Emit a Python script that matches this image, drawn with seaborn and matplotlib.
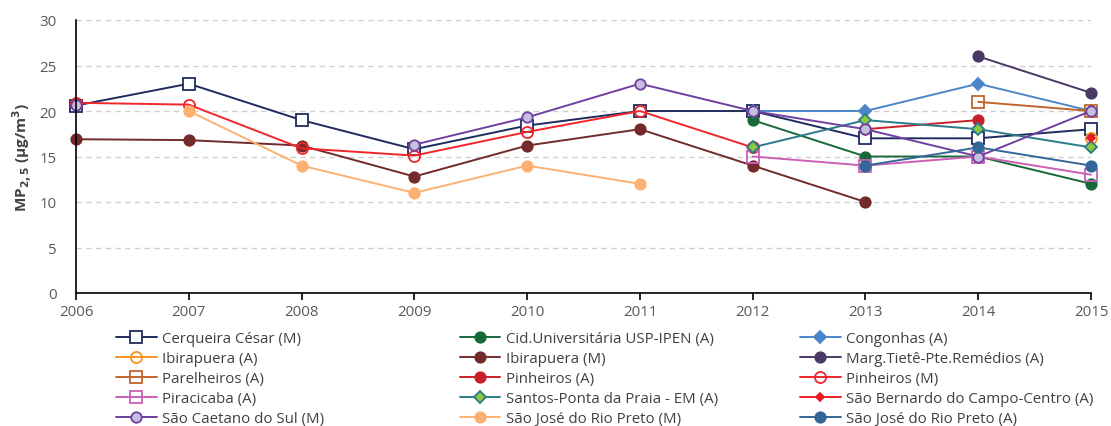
import numpy as np
import pandas as pd
import matplotlib.pyplot as plt
import seaborn as sns

nan = np.nan

# anos
years = [2006, 2007, 2008, 2009, 2010, 2011, 2012, 2013, 2014, 2015]

# MP2,5 medias anuais (ug/m3)
cerqueira_cesar_m = [20.6, 23.0, 19.0, 15.8, 18.4, 20.0, 20.0, 17.0, 17.0, 18.0]
cid_universitaria_a = [nan, nan, nan, nan, nan, nan, 19.0, 15.0, 15.0, 12.0]
congonhas_a = [nan, nan, nan, nan, nan, nan, 20.0, 20.0, 23.0, 20.0]
ibirapuera_a = [nan, nan, nan, nan, nan, nan, nan, nan, nan, 17.0]
ibirapuera_m = [16.9, 16.8, 16.2, 12.8, 16.2, 18.0, 14.0, 10.0, nan, nan]
marg_tiete_a = [nan, nan, nan, nan, nan, nan, nan, nan, 26.0, 22.0]
parelheiros_a = [nan, nan, nan, nan, nan, nan, nan, nan, 21.0, 20.0]
pinheiros_a = [nan, nan, nan, nan, nan, nan, nan, 18.0, 19.0, nan]
pinheiros_m = [20.9, 20.7, 15.9, 15.1, 17.7, 20.0, 16.0, nan, nan, nan]
piracicaba_a = [nan, nan, nan, nan, nan, nan, 15.0, 14.0, 15.0, 13.0]
santos_a = [nan, nan, nan, nan, nan, nan, 16.0, 19.0, 18.0, 16.0]
sao_bernardo_a = [nan, nan, nan, nan, nan, nan, nan, nan, nan, 17.0]
sao_caetano_m = [20.7, nan, nan, 16.3, 19.3, 23.0, 20.0, 18.0, 15.0, 20.0]
sjrp_m = [nan, 20.0, 14.0, 11.0, 14.0, 12.0, nan, nan, nan, nan]
sjrp_a = [nan, nan, nan, nan, nan, nan, nan, 14.0, 16.0, 14.0]

labels = [
    "Cerqueira César (M)", "Cid.Universitária USP-IPEN (A)", "Congonhas (A)",
    "Ibirapuera (A)", "Ibirapuera (M)", "Marg.Tietê-Pte.Remédios (A)",
    "Parelheiros (A)", "Pinheiros (A)", "Pinheiros (M)",
    "Piracicaba (A)", "Santos-Ponta da Praia - EM (A)", "São Bernardo do Campo-Centro (A)",
    "São Caetano do Sul (M)", "São José do Rio Preto (M)", "São José do Rio Preto (A)",
]
values = [cerqueira_cesar_m, cid_universitaria_a, congonhas_a,
          ibirapuera_a, ibirapuera_m, marg_tiete_a,
          parelheiros_a, pinheiros_a, pinheiros_m,
          piracicaba_a, santos_a, sao_bernardo_a,
          sao_caetano_m, sjrp_m, sjrp_a]

# (cor da linha, marcador, tamanho, face, borda)
styles = [
    ("#1f2b5e", "s", 8.3, "white", "#1f2b5e"),
    ("#17693a", "o", 7.5, "#17693a", "#17693a"),
    ("#4a86c8", "D", 6, "#4a86c8", "#4a86c8"),
    ("#f7941d", "o", 8, "none", "#f7941d"),
    ("#722a2a", "o", 7.5, "#722a2a", "#722a2a"),
    ("#4a3865", "o", 7.5, "#4a3865", "#4a3865"),
    ("#c0652b", "s", 8.3, "none", "#c0652b"),
    ("#c8202a", "o", 7.5, "#c8202a", "#c8202a"),
    ("#f0262b", "o", 8, "none", "#f0262b"),
    ("#cc5fb6", "s", 8.3, "none", "#cc5fb6"),
    ("#2a7b8a", "D", 6, "#8dc640", "#2a7b8a"),
    ("#ed1c24", "D", 4.5, "#ed1c24", "#ed1c24"),
    ("#7040a0", "o", 7.5, "#c5bfe0", "#7040a0"),
    ("#fdb170", "o", 7.5, "#fdb170", "#fdb170"),
    ("#336699", "o", 7.5, "#336699", "#336699"),
]

sns.set_theme(style="white")
plt.rcParams["font.family"] = ["Open Sans", "DejaVu Sans"]

fig = plt.figure(figsize=(11.11, 4.27), dpi=100)
ax = fig.add_axes([76 / 1111, 1 - 294 / 427, (1091 - 76) / 1111, (294 - 21) / 427])

handles = []
for lab, vals, (col, mk, ms, fc, ec) in zip(labels, values, styles):
    df = pd.DataFrame({"year": years, "value": vals})
    # segmentos continuos (nao ligar pontos atraves de lacunas)
    df["seg"] = df["value"].isna().cumsum()
    df = df.dropna()
    first = True
    for _, part in df.groupby("seg"):
        sns.lineplot(data=part, x="year", y="value", ax=ax, color=col,
                     marker=mk, markersize=ms, markerfacecolor=fc,
                     markeredgecolor=ec, markeredgewidth=1.3, linewidth=1.4,
                     errorbar=None, label=lab if first else "_nolegend_",
                     clip_on=False)
        if first:
            handles.append(ax.lines[-1])
        first = False

if ax.get_legend() is not None:
    ax.get_legend().remove()

ax.set_xlim(2006, 2015)
ax.set_ylim(0, 30)
ax.set_xticks(years)
ax.set_yticks(range(0, 31, 5))
ax.yaxis.grid(True, color="#d0d0d0", linestyle=(0, (4, 3)), linewidth=1)
ax.xaxis.grid(False)
for s in ["top", "right"]:
    ax.spines[s].set_visible(False)
for s in ["left", "bottom"]:
    ax.spines[s].set_color("black")
    ax.spines[s].set_linewidth(1.2)
ax.tick_params(axis="x", bottom=True, length=5, width=1.2, color="black",
               labelsize=10.8, labelcolor="#595959", pad=3)
ax.tick_params(axis="y", left=False, labelsize=10.8, labelcolor="#595959", pad=8)
ax.set_xlabel("")
ax.set_ylabel(r"MP$_{\mathbf{2,5}}$ (µg/m$^{\mathbf{3}}$)", fontsize=11,
              fontweight="bold", color="#404040", labelpad=4)

# legenda em tres colunas (posicoes fixas)
col_x = [116, 460, 800]
for i, x0 in enumerate(col_x):
    hs = handles[i::3]
    fig.legend(handles=hs, labels=[h.get_label() for h in hs],
               loc="upper left", bbox_to_anchor=(x0 / 1111, 1 - 332 / 427),
               frameon=False, fontsize=10.8, labelcolor="#404040",
               handlelength=2.7, handletextpad=0.4, borderpad=0,
               borderaxespad=0, labelspacing=0.33, numpoints=1)

plt.savefig("out.png", dpi=100)
